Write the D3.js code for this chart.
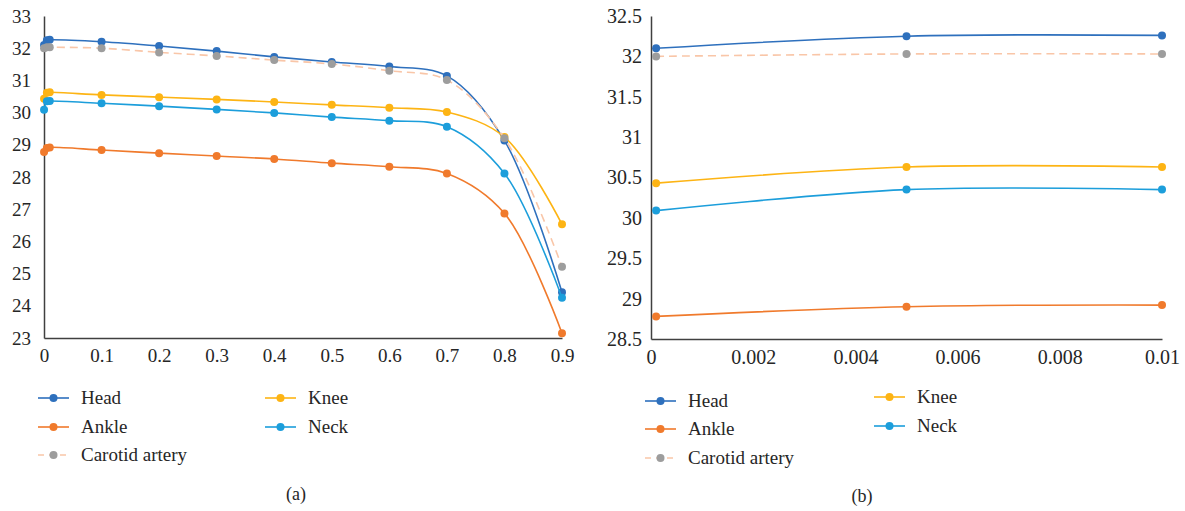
<!DOCTYPE html>
<html lang="en">
<head>
<meta charset="utf-8">
<script src="https://d3js.org/d3.v7.min.js"></script>
<style>
  body { margin: 0; background: #fff; }
</style>
</head>
<body>
<div id="my_dataviz"></div>
<script>
// ---- data ----
var seriesNames = ["Head", "Knee", "Ankle", "Neck", "Carotid artery"];

// panel (a)
var xA = [0.0001, 0.005, 0.01, 0.1, 0.2, 0.3, 0.4, 0.5, 0.6, 0.7, 0.8, 0.9];
var headA    = [32.10, 32.25, 32.26, 32.20, 32.07, 31.91, 31.73, 31.57, 31.43, 31.14, 29.13, 24.42];
var kneeA    = [30.43, 30.62, 30.63, 30.55, 30.48, 30.41, 30.33, 30.24, 30.15, 30.02, 29.24, 26.53];
var ankleA   = [28.78, 28.90, 28.92, 28.84, 28.74, 28.65, 28.56, 28.43, 28.32, 28.11, 26.87, 23.15];
var neckA    = [30.09, 30.35, 30.36, 30.29, 30.20, 30.10, 29.99, 29.86, 29.75, 29.56, 28.11, 24.25];
var carotidA = [32.00, 32.03, 32.03, 32.00, 31.87, 31.76, 31.63, 31.51, 31.30, 31.01, 29.20, 25.21];
var xTicksA = [0, 0.1, 0.2, 0.3, 0.4, 0.5, 0.6, 0.7, 0.8, 0.9];
var yTicksA = [23, 24, 25, 26, 27, 28, 29, 30, 31, 32, 33];

// panel (b)
var xB = [0.0001, 0.005, 0.01];
var headB    = [32.10, 32.25, 32.26];
var kneeB    = [30.43, 30.63, 30.63];
var ankleB   = [28.78, 28.90, 28.92];
var neckB    = [30.09, 30.35, 30.35];
var carotidB = [32.00, 32.03, 32.03];
var xTicksB = [0, 0.002, 0.004, 0.006, 0.008, 0.01];
var yTicksB = [28.5, 29, 29.5, 30, 30.5, 31, 31.5, 32, 32.5];

// ---- styles ----
var lineColors   = ["#2e70bd", "#fdb414", "#f07a2c", "#1c9edb", "#f9c6a8"];
var markerColors = ["#2e70bd", "#fdb414", "#f07a2c", "#1c9edb", "#9d9d9d"];
var dashes       = [null, null, null, null, "8,5"];
var serif = "'Liberation Serif', 'Times New Roman', serif";

var svg = d3.select("#my_dataviz")
  .append("svg")
    .attr("width", 1185)
    .attr("height", 511);

function fmt(d) { return String(+d.toFixed(4)); }

function drawPanel(opt) {
  var x = d3.scaleLinear().domain(opt.xDomain).range(opt.xRange);
  var y = d3.scaleLinear().domain(opt.yDomain).range(opt.yRange);

  var xAxis = svg.append("g")
      .attr("transform", "translate(0," + opt.yRange[0] + ")")
      .call(d3.axisBottom(x).tickValues(opt.xTicks).tickFormat(fmt).tickSize(0).tickPadding(11));
  var yAxis = svg.append("g")
      .attr("transform", "translate(" + opt.xRange[0] + ",0)")
      .call(d3.axisLeft(y).tickValues(opt.yTicks).tickFormat(fmt).tickSize(0).tickPadding(opt.yPad));
  [xAxis, yAxis].forEach(function(a) {
    a.attr("font-family", serif).attr("font-size", opt.tickSize);
    a.select(".domain").attr("stroke", "#404040").attr("stroke-width", 1.5);
    a.selectAll("text").attr("fill", "#262626");
  });

  var line = d3.line()
      .x(function(d) { return x(d[0]); })
      .y(function(d) { return y(d[1]); })
      .curve(d3.curveCatmullRom.alpha(0.5));

  opt.series.forEach(function(vals, i) {
    var pts = opt.xs.map(function(xv, j) { return [xv, vals[j]]; });
    svg.append("path")
      .datum(pts)
      .attr("d", line)
      .attr("fill", "none")
      .attr("stroke", lineColors[i])
      .attr("stroke-width", 1.6)
      .attr("stroke-dasharray", dashes[i]);
    svg.append("g").selectAll("circle")
      .data(pts)
      .enter()
      .append("circle")
        .attr("cx", function(d) { return x(d[0]); })
        .attr("cy", function(d) { return y(d[1]); })
        .attr("r", 4)
        .attr("fill", markerColors[i]);
  });

  // legend
  var lg = opt.legend;
  seriesNames.forEach(function(name, i) {
    var p = lg.pos[i];
    var g = svg.append("g").attr("transform", "translate(" + p[0] + "," + p[1] + ")");
    g.append("line")
      .attr("x1", 0).attr("x2", 31).attr("y1", 0).attr("y2", 0)
      .attr("stroke", lineColors[i]).attr("stroke-width", 1.6)
      .attr("stroke-dasharray", dashes[i] ? "6,5" : null);
    g.append("circle").attr("cx", 15.5).attr("cy", 0).attr("r", 4).attr("fill", markerColors[i]);
    g.append("text")
      .attr("x", 43).attr("y", 0).attr("dy", "0.33em")
      .attr("font-family", serif).attr("font-size", 19).attr("fill", "#262626")
      .text(name);
  });

  svg.append("text")
    .attr("x", opt.caption[0]).attr("y", opt.caption[1])
    .attr("text-anchor", "middle")
    .attr("font-family", serif).attr("font-size", 18).attr("fill", "#262626")
    .text(opt.captionText);
}

drawPanel({
  xDomain: [0, 0.9], xRange: [44, 562],
  yDomain: [23, 33], yRange: [338, 16],
  xTicks: xTicksA, yTicks: yTicksA, yPad: 13, tickSize: 19,
  xs: xA,
  series: [headA, kneeA, ankleA, neckA, carotidA],
  legend: { pos: [[38, 398], [265, 398], [38, 427], [265, 427], [38, 455]] },
  caption: [296, 500], captionText: "(a)"
});

drawPanel({
  xDomain: [0, 0.01], xRange: [651, 1162],
  yDomain: [28.5, 32.5], yRange: [339, 16],
  xTicks: xTicksB, yTicks: yTicksB, yPad: 9, tickSize: 20,
  xs: xB,
  series: [headB, kneeB, ankleB, neckB, carotidB],
  legend: { pos: [[645, 401], [874, 397], [645, 429], [874, 426], [645, 458]] },
  caption: [862, 502], captionText: "(b)"
});
</script>
</body>
</html>
